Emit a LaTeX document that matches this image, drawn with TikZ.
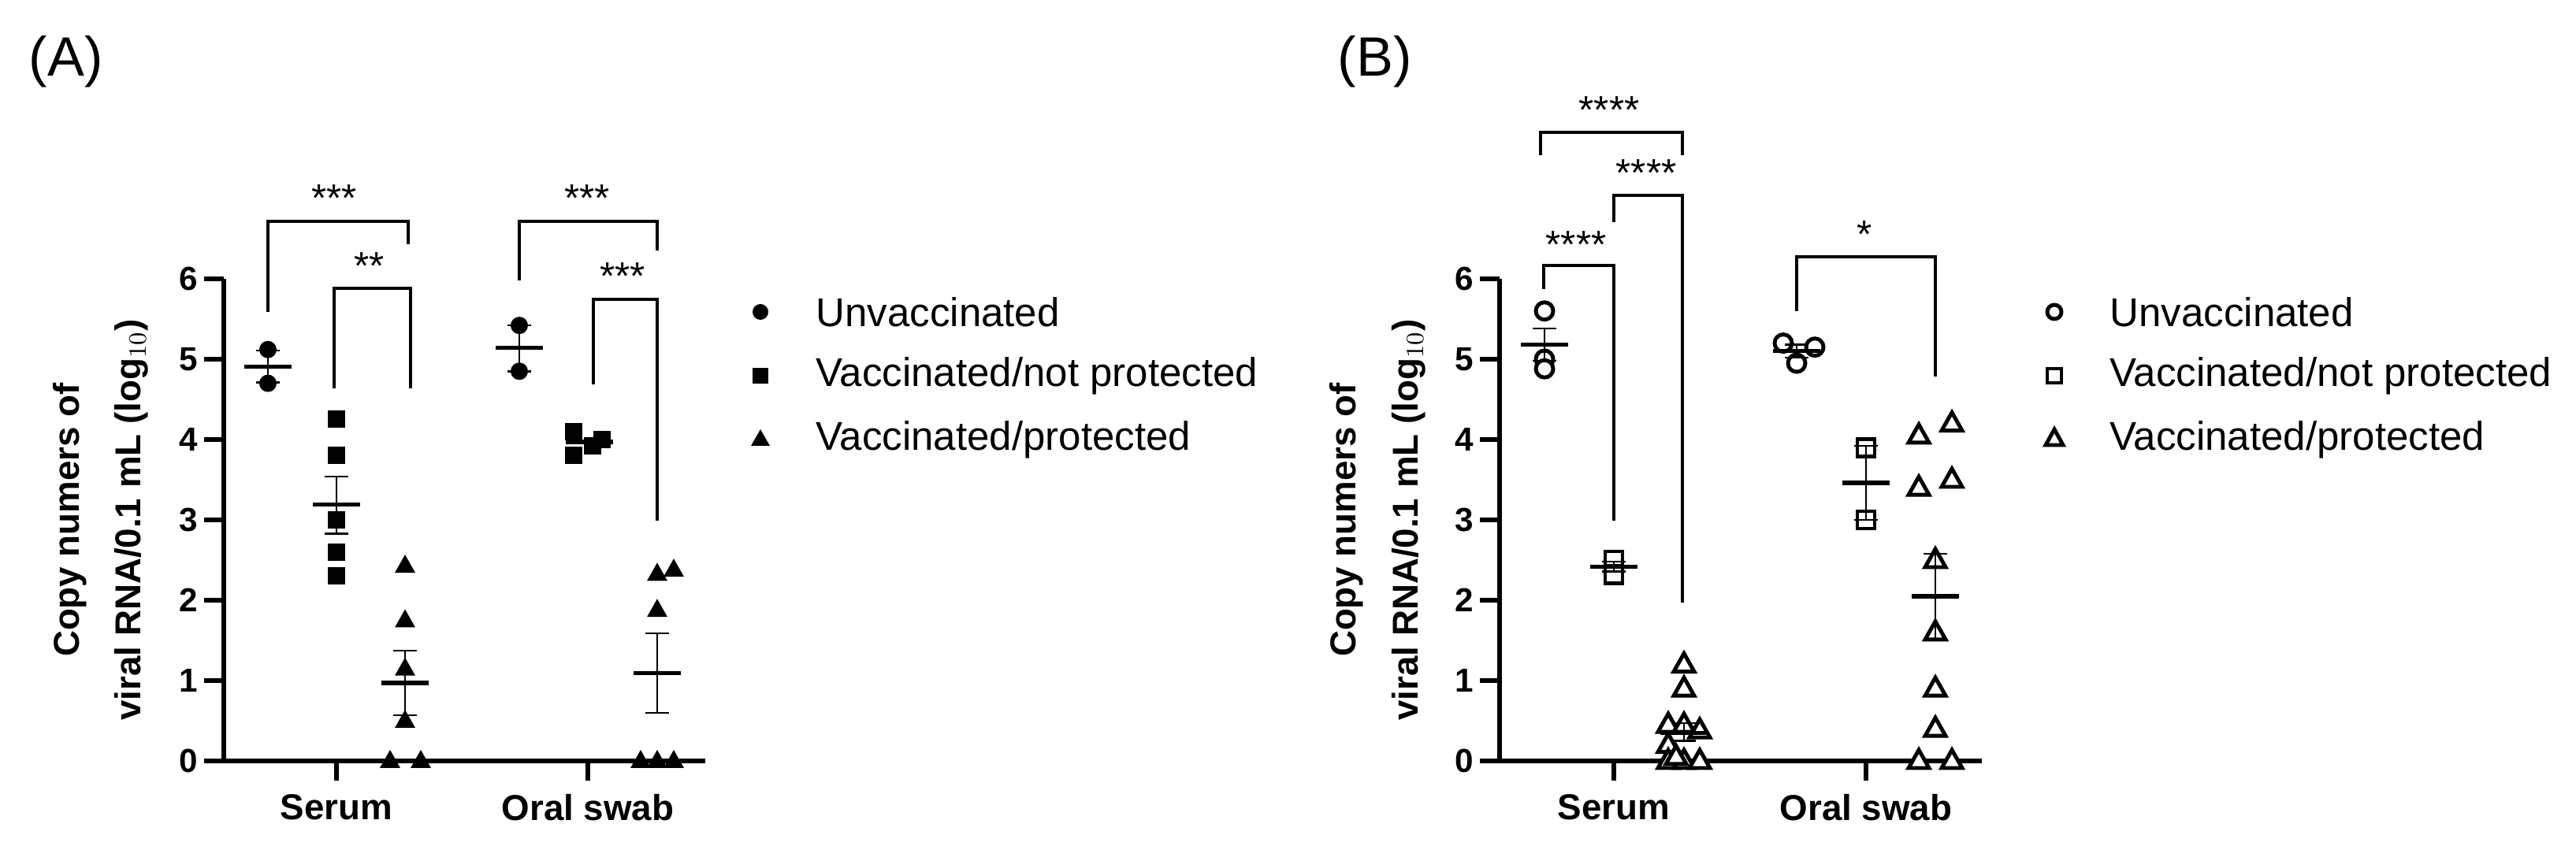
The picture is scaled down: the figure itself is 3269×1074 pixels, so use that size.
\documentclass[tikz,border=0pt]{standalone}
\usepackage{fontspec}
\setmainfont{Liberation Sans}
\newcommand{\Y}[1]{966-102*(#1)}
\newcommand{\mcirc}[3]{\path[#1] (#2,{\Y{#3}}) circle (11);}
\newcommand{\msq}[3]{\path[#1] ({#2-11},{\Y{#3}-11}) rectangle ++(22,22);}
\newcommand{\mtri}[3]{\path[#1] ({#2-13},{\Y{#3}+9}) -- ++(26,0) -- ++(-13,-23) -- cycle;}
\newcommand{\msem}[4]{\draw[meanl] ({#1-30},{\Y{#2}}) -- ++(60,0);
  \draw[seml] (#1,{\Y{#3}}) -- (#1,{\Y{#4}});
  \draw[seml] ({#1-15},{\Y{#3}}) -- ++(30,0);
  \draw[seml] ({#1-15},{\Y{#4}}) -- ++(30,0);}
\newcommand{\brk}[5]{\draw[brl] (#1,#4) -- (#1,#3) -- (#2,#3) -- (#2,#5);}
\tikzset{
  fm/.style={fill=black},
  om/.style={draw=black,line width=1.4pt,fill=white},
  meanl/.style={line width=1.5pt},
  seml/.style={line width=0.7pt},
  brl/.style={line width=1.4pt},
  axl/.style={line width=1.8pt},
  tick/.style={font=\fontsize{12}{14}\selectfont\bfseries,anchor=east,inner sep=0pt},
  cat/.style={font=\fontsize{13}{15}\selectfont\bfseries,inner sep=0pt},
  star/.style={font=\fontsize{14}{16}\selectfont,inner sep=0pt},
  leg/.style={font=\fontsize{14.5}{17}\selectfont,anchor=west,inner sep=0pt},
  ylab/.style={font=\fontsize{13}{15}\selectfont\bfseries,rotate=90,inner sep=0pt},
  panel/.style={font=\fontsize{20}{24}\selectfont,anchor=north west,inner sep=0pt}
}
\begin{document}
\begin{tikzpicture}[x=0.01cm,y=-0.01cm]
\useasboundingbox (0,0) rectangle (3269,1074);
% ================= Panel A =================
\node[panel] (pA) at (36,45) {(A)};
\draw[axl] (284,{\Y{6}}) -- (284,{\Y{0}}) -- (895,{\Y{0}});
\foreach \v in {0,...,6} {
  \draw[axl] (284,{\Y{\v}}) -- (259,{\Y{\v}});
  \node[tick] (tA\v) at (252,{\Y{\v}}) {\v};
}
\draw[axl] (427,{\Y{0}}) -- (427,991);
\draw[axl] (746,{\Y{0}}) -- (746,991);
\node[cat] (sA) at (427,1025) {Serum};
\node[cat] (oA) at (746,1025) {Oral swab};
\node[ylab] (yA1) at (89,660) {Copy numers of};
\node[ylab] (yA2) at (167,660) {viral RNA/0.1 mL (log$_{10}$)};
% data A serum
\mcirc{fm}{340}{5.12}\mcirc{fm}{340}{4.7}
\msem{340}{4.91}{4.71}{5.11}
\foreach \v in {4.25,3.8,3.0,2.6,2.3} {\msq{fm}{427}{\v}}
\msem{427}{3.19}{2.83}{3.54}
\foreach \v in {2.43,1.75,1.15,0.5} {\mtri{fm}{514}{\v}}
\mtri{fm}{495}{0}\mtri{fm}{534}{0}
\msem{514}{0.97}{0.57}{1.37}
% data A oral
\mcirc{fm}{659}{5.42}\mcirc{fm}{659}{4.85}
\msem{659}{5.14}{4.85}{5.42}
\msq{fm}{728}{4.1}\msq{fm}{728}{3.8}\msq{fm}{764}{4.0}\msq{fm}{752}{3.92}
\draw[meanl] (718,{\Y{3.97}}) -- ++(60,0);
\mtri{fm}{855}{2.38}\mtri{fm}{834}{2.33}\mtri{fm}{834}{1.88}
\mtri{fm}{813}{0}\mtri{fm}{834}{0}\mtri{fm}{855}{0}
\msem{834}{1.09}{0.6}{1.59}
% brackets A
\brk{340}{518}{281}{396}{310}
\node[star] (s1) at (424,252) {***};
\brk{424}{521}{366}{493}{493}
\node[star] (s2) at (469,338) {**};
\brk{659}{834}{281}{356}{318}
\node[star] (s3) at (745,252) {***};
\brk{753}{834}{380}{488}{661}
\node[star] (s4) at (790,351) {***};
% legend A
\fill (965,396) circle (10);
\fill (955,467) rectangle ++(20,20);
\fill (953,566) -- ++(24,0) -- ++(-12,-21) -- cycle;
\node[leg] (lA1) at (1035,396) {Unvaccinated};
\node[leg] (lA2) at (1035,477) {Vaccinated/not protected};
\node[leg] (lA3) at (1035,558) {Vaccinated/protected};
% ================= Panel B =================
\node[panel] (pB) at (1697,45) {(B)};
\draw[axl] (1903,{\Y{6}}) -- (1903,{\Y{0}}) -- (2515,{\Y{0}});
\foreach \v in {0,...,6} {
  \draw[axl] (1903,{\Y{\v}}) -- (1878,{\Y{\v}});
  \node[tick] (tB\v) at (1871,{\Y{\v}}) {\v};
}
\draw[axl] (2048,{\Y{0}}) -- (2048,991);
\draw[axl] (2368,{\Y{0}}) -- (2368,991);
\node[cat] (sB) at (2048,1025) {Serum};
\node[cat] (oB) at (2368,1025) {Oral swab};
\node[ylab] (yB1) at (1709,660) {Copy numers of};
\node[ylab] (yB2) at (1788,660) {viral RNA/0.1 mL (log$_{10}$)};
% data B serum
\mcirc{om}{1960}{5.6}\mcirc{om}{1960}{5.0}\mcirc{om}{1960}{4.88}
\msem{1960}{5.18}{4.98}{5.38}
\msq{om}{2048}{2.5}\msq{om}{2048}{2.32}
\msem{2048}{2.42}{2.36}{2.48}
\mtri{om}{2137}{1.2}\mtri{om}{2137}{0.9}
\mtri{om}{2117}{0.45}\mtri{om}{2137}{0.45}\mtri{om}{2157}{0.38}
\mtri{om}{2117}{0.2}
\mtri{om}{2117}{0}\mtri{om}{2137}{0}\mtri{om}{2157}{0}\mtri{om}{2127}{0.05}
\msem{2137}{0.35}{0.25}{0.47}
% data B oral
\mcirc{om}{2263}{5.2}\mcirc{om}{2303}{5.15}\mcirc{om}{2280}{4.95}
\msem{2280}{5.1}{5.02}{5.18}
\msq{om}{2368}{3.9}\msq{om}{2368}{3.0}
\msem{2368}{3.46}{3.0}{3.92}
\mtri{om}{2435}{4.05}\mtri{om}{2435}{3.4}\mtri{om}{2435}{0}
\mtri{om}{2477}{4.2}\mtri{om}{2477}{3.5}\mtri{om}{2477}{0}
\mtri{om}{2456}{2.5}\mtri{om}{2456}{1.6}\mtri{om}{2456}{0.9}\mtri{om}{2456}{0.4}
\msem{2456}{2.05}{1.52}{2.58}
% brackets B
\brk{1955}{2135}{168}{197}{197}
\node[star] (s5) at (2042,140) {****};
\brk{2048}{2135}{248}{282}{765}
\node[star] (s6) at (2089,220) {****};
\brk{1959}{2048}{337}{367}{661}
\node[star] (s7) at (2000,311) {****};
\brk{2280}{2456}{326}{395}{478}
\node[star] (s8) at (2366,298) {*};
% legend B
\draw[line width=1.4pt] (2607,396) circle (9);
\draw[line width=1.4pt] (2598,468) rectangle ++(18,18);
\draw[line width=1.4pt] (2596,565) -- ++(22,0) -- ++(-11,-20) -- cycle;
\node[leg] (lB1) at (2677,396) {Unvaccinated};
\node[leg] (lB2) at (2677,477) {Vaccinated/not protected};
\node[leg] (lB3) at (2677,558) {Vaccinated/protected};
\end{tikzpicture}
\end{document}
